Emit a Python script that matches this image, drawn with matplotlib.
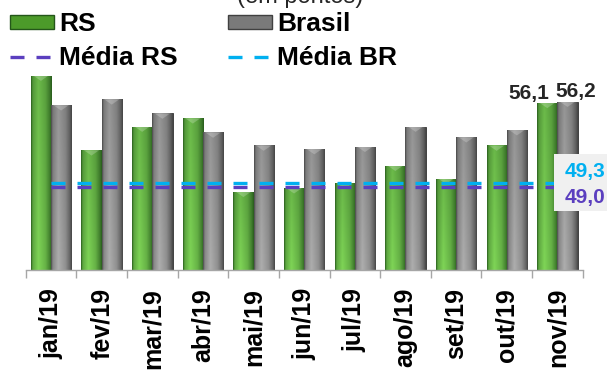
import numpy as np
import matplotlib.pyplot as plt
from matplotlib.patches import Patch, Rectangle, Polygon
from matplotlib.lines import Line2D
from matplotlib.colors import to_rgb

plt.rcParams['font.family'] = ['Liberation Sans', 'DejaVu Sans']

# dados (em pontos)
meses = ['jan/19', 'fev/19', 'mar/19', 'abr/19', 'mai/19', 'jun/19',
         'jul/19', 'ago/19', 'set/19', 'out/19', 'nov/19']
rs = [58.4, 52.1, 54.1, 54.8, 48.6, 48.9, 49.3, 50.8, 49.7, 52.5, 56.1]
brasil = [55.9, 56.4, 55.2, 53.6, 52.5, 52.2, 52.4, 54.1, 53.2, 53.8, 56.2]
media_rs = 49.0
media_br = 49.3

verde_esc, verde_cla = to_rgb('#24561a'), to_rgb('#84dc5a')
cinza_esc, cinza_cla = to_rgb('#404040'), to_rgb('#b4b4b4')
cor_mrs = '#5b3fbf'
cor_mbr = '#00b0f0'

y_min, y_max = 42, 60


def fmt(v):
    return f'{v:.1f}'.replace('.', ',')


def pinta_barra(ax, bar, escuro, claro):
    # preenchimento em degrade, recortado pelo retangulo da barra
    x0, larg, topo = bar.get_x(), bar.get_width(), bar.get_height()
    t = np.linspace(0, 1, 60)
    perfil = np.interp(t, [0, 0.08, 0.35, 0.7, 0.9, 1],
                       [0.08, 0.55, 0.85, 0.62, 0.3, 0.05])
    v = np.linspace(0, 1, 80)[:, None]
    luz = np.clip(perfil[None, :] * (1.12 - 0.25 * v), 0, 1)
    esc, cla = np.array(escuro), np.array(claro)
    img = esc + (cla - esc) * luz[..., None]
    im = ax.imshow(img, extent=[x0, x0 + larg, y_min, topo], origin='lower',
                   aspect='auto', interpolation='bilinear', zorder=2)
    im.set_clip_path(bar)
    # chanfro no topo
    d = 0.025 * (y_max - y_min)
    tri = Polygon([(x0 + 0.12 * larg, topo), (x0 + 0.88 * larg, topo),
                   (x0 + 0.5 * larg, topo - d)], closed=True,
                  facecolor='white', alpha=0.22, edgecolor='none', zorder=2.2)
    ax.add_patch(tri)


fig = plt.figure(figsize=(6.07, 3.70), dpi=100)
ax = fig.add_axes([0.0423, 0.2703, 0.9177, 0.5768])

x = np.arange(len(meses))
w = 0.4
b_rs = ax.bar(x - w / 2, rs, w, color=verde_esc, edgecolor='#1e4414',
              linewidth=0.6, zorder=1.5)
b_br = ax.bar(x + w / 2, brasil, w, color=cinza_esc, edgecolor='#333333',
              linewidth=0.6, zorder=1.5)
for b in b_rs:
    pinta_barra(ax, b, verde_esc, verde_cla)
for b in b_br:
    pinta_barra(ax, b, cinza_esc, cinza_cla)

# linhas de media
ax.plot([x[0], x[-1]], [media_rs, media_rs], color=cor_mrs, lw=2.4,
        dashes=(4.2, 3.6), zorder=3)
ax.plot([x[0], x[-1]], [media_br, media_br], color=cor_mbr, lw=2.4,
        dashes=(4.2, 3.6), zorder=3.1)

# rotulos do ultimo mes
ax.annotate(fmt(rs[-1]), xy=(x[-1] - w / 2, rs[-1]), xytext=(-13, 3),
            textcoords='offset points', ha='center', va='baseline',
            fontsize=15, fontweight='bold', color='#262626', zorder=5)
ax.annotate(fmt(brasil[-1]), xy=(x[-1] + w / 2, brasil[-1]), xytext=(6, 3),
            textcoords='offset points', ha='center', va='baseline',
            fontsize=15, fontweight='bold', color='#262626', zorder=5)

# caixa com os valores das medias
ax.add_patch(Rectangle((x[-1] - 0.067, media_rs - 2.0), 1.5,
                       (media_br + 2.5) - (media_rs - 2.0),
                       facecolor='#f0f0f0', edgecolor='none', zorder=4,
                       clip_on=False))
ax.annotate(fmt(media_br), xy=(x[-1], media_br), xytext=(20, 4.8),
            textcoords='offset points', ha='center', va='baseline',
            fontsize=15, fontweight='bold', color=cor_mbr, zorder=5,
            annotation_clip=False)
ax.annotate(fmt(media_rs), xy=(x[-1], media_rs), xytext=(20, -11.8),
            textcoords='offset points', ha='center', va='baseline',
            fontsize=15, fontweight='bold', color=cor_mrs, zorder=5,
            annotation_clip=False)

ax.set_xlim(-0.5, len(meses) - 0.5)
ax.set_ylim(y_min, y_max)
ax.set_yticks([])
for s in ('left', 'right', 'top'):
    ax.spines[s].set_visible(False)
ax.spines['bottom'].set_color('#a6a6a6')
ax.spines['bottom'].set_linewidth(1)

ax.set_xticks(x)
ax.set_xticklabels(meses, rotation=90, fontsize=18, fontweight='bold')
ax.set_xticks(np.arange(len(meses) + 1) - 0.5, minor=True)
ax.tick_params(axis='x', which='major', length=0, pad=13)
ax.tick_params(axis='x', which='minor', length=6, color='#a6a6a6', width=1)
for lbl in ax.get_xticklabels():
    lbl.set_verticalalignment('top')

# legenda
handles = [
    Patch(facecolor='#4c9a2a', edgecolor='#24561a', label='RS'),
    Line2D([], [], color=cor_mrs, lw=2.4, dashes=(4.2, 3.6), label='Média RS'),
    Patch(facecolor='#7a7a7a', edgecolor='#404040', label='Brasil'),
    Line2D([], [], color=cor_mbr, lw=2.4, dashes=(4.2, 3.6), label='Média BR'),
]
ax.legend(handles=handles, ncol=2, loc='upper left',
          bbox_to_anchor=(10 / 607, 1 - 12 / 370), bbox_transform=fig.transFigure,
          frameon=False, prop=dict(weight='bold', size=19),
          handlelength=1.65, handleheight=0.45, handletextpad=0.2,
          columnspacing=1.92, labelspacing=0.37, borderpad=0, borderaxespad=0)

fig.text(300 / 607, 1 - 3 / 370, '(em pontos)', ha='center', va='baseline',
         fontsize=17, color='#262626')

fig.savefig('out.png', dpi=100)
